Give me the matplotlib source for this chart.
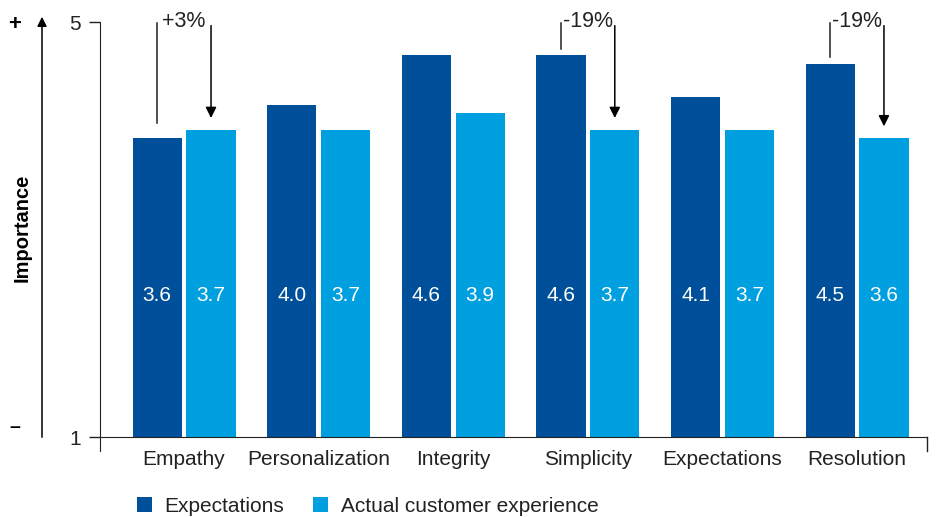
import matplotlib.pyplot as plt
import numpy as np

plt.rcParams['font.family'] = ['Liberation Sans', 'DejaVu Sans']

categories = ["Empathy", "Personalization", "Integrity", "Simplicity", "Expectations", "Resolution"]
expectations = [3.6, 4.0, 4.6, 4.6, 4.1, 4.5]
actual = [3.7, 3.7, 3.9, 3.7, 3.7, 3.6]
changes = {0: "+3%", 3: "-19%", 5: "-19%"}

dark = "#004f9a"
light = "#009fdf"
txt = "#222222"

fig = plt.figure(figsize=(9.38, 5.17), dpi=100)
ax = fig.add_axes([0.1066, 0.1547, 0.8817, 0.8027])

x = np.arange(len(categories))
w = 0.365
ax.bar(x - 0.2, expectations, w, color=dark, label="Expectations")
ax.bar(x + 0.2, actual, w, color=light, label="Actual customer experience")

for i in range(len(categories)):
    ax.text(x[i] - 0.2, 1.71, f"{expectations[i]:.1f}", color="white", ha="center", va="center", fontsize=15)
    ax.text(x[i] + 0.2, 1.71, f"{actual[i]:.1f}", color="white", ha="center", va="center", fontsize=15)

# change annotations
for i, lab in changes.items():
    top = 4.99
    ax.plot([x[i] - 0.2, x[i] - 0.2], [top, max(expectations[i], actual[i]) + 0.08],
            color=txt, lw=1.1, clip_on=False)
    ax.annotate("", xy=(x[i] + 0.2, actual[i] + 0.11), xytext=(x[i] + 0.2, top),
                arrowprops=dict(arrowstyle="-|>", color="black", lw=1.1, mutation_scale=16),
                annotation_clip=False)
    ax.text(x[i], 5.01, lab, ha="center", va="center", fontsize=15.5, color=txt)

ax.set_xlim(-0.625, 5.52)
ax.set_ylim(0, 5)
ax.set_xticks(x)
ax.set_xticklabels(categories, fontsize=15, color=txt)
ax.tick_params(axis="x", length=0, pad=9)
ax.set_yticks([0, 5])
ax.set_yticklabels(["1", "5"], fontsize=15, color=txt)
ax.tick_params(axis="y", length=8, width=1, color=txt, pad=6)

for s in ["top", "right"]:
    ax.spines[s].set_visible(False)
ax.spines["left"].set_bounds(-0.17, 5)
ax.spines["left"].set_color(txt)
ax.spines["bottom"].set_color(txt)
ax.plot([5.52, 5.52], [0, -0.17], color=txt, lw=1, clip_on=False)

# outer importance arrow
fig.patches.append(plt.matplotlib.patches.FancyArrowPatch(
    (42 / 938, 1 - 440 / 517), (42 / 938, 1 - 14 / 517), transform=fig.transFigure,
    arrowstyle="-|>", mutation_scale=14, color="black", lw=1.1))
fig.text(15 / 938, 1 - 24 / 517, "+", fontsize=16, fontweight="bold", ha="center", va="center")
fig.text(15 / 938, 1 - 428 / 517, "–", fontsize=14, fontweight="bold", ha="center", va="center")
fig.text(22 / 938, 1 - 228 / 517, "Importance", fontsize=14.5, fontweight="bold", rotation=90,
         ha="center", va="center")

fig.legend(loc="center left", bbox_to_anchor=(137 / 938, 1 - 506 / 517), ncol=2, frameon=False,
           fontsize=15, handlelength=0.72, handleheight=0.72, handletextpad=0.6, columnspacing=1.4,
           labelcolor=txt, borderaxespad=0, borderpad=0)

fig.savefig("out.png", dpi=100)
